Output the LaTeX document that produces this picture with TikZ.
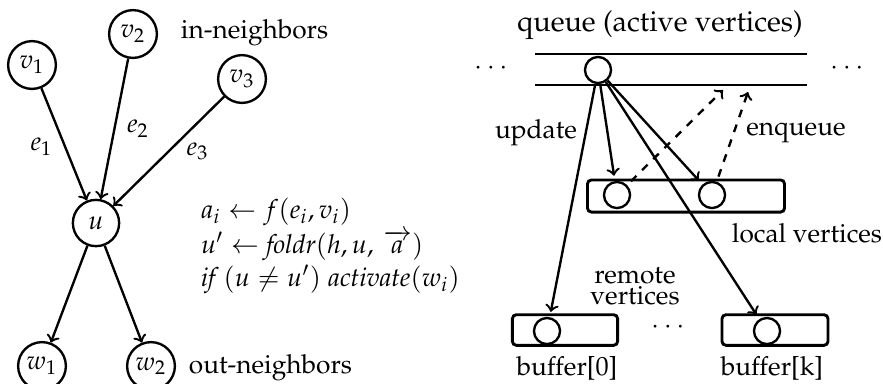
\documentclass[tikz,border=0pt]{standalone}
\usepackage{amsmath,amssymb}
\usepackage[T1]{fontenc}
\usepackage{mathpazo}
\usepackage{tikz}
\usetikzlibrary{positioning}

\begin{document}
\begin{tikzpicture}[
    x=0.0134cm, y=-0.0134cm,             % one unit = one pixel of the sketch
    >=to,
    line width=0.9pt,
    vertex/.style={draw, circle, minimum size=0.64cm, inner sep=0pt},
    item/.style={draw, circle, minimum size=0.35cm, inner sep=0pt},
    bin/.style={draw, rectangle, rounded corners=1.5pt, line width=1.1pt,
        minimum height=0.41cm, inner sep=0pt},
    update/.style={->, shorten >=2pt},
    enqueue/.style={->, dashed, shorten <=2pt}
]
\useasboundingbox (0,0) rectangle (883,383);

% the vertex program
\node[vertex] (v1) at (32,65) {$v_1$};
\node[vertex] (v2) at (133,34) {$v_2$};
\node[vertex] (v3) at (242,79) {$v_3$};
\node[vertex, minimum size=0.62cm] (u) at (96,223) {$u$};
\node[vertex] (w1) at (42,366) {$w_1$};
\node[vertex] (w2) at (151,366) {$w_2$};

\node[anchor=west] (inlabel) at (171,33) {in-neighbors};
\node[anchor=west] (outlabel) at (179,368) {out-neighbors};

\draw[->] (v1) -- node[pos=0.52, left=1pt] {$e_1$} (u);
\draw[->] (v2) -- node[pos=0.5, right=1pt] {$e_2$} (u);
\draw[->] (v3) -- node[pos=0.5, right=3pt] {$e_3$} (u);
\draw[->] (u) -- (w1);
\draw[->] (u) -- (w2);

\node[anchor=base west] (rule1) at (191,218) {$a_i \leftarrow f(e_i, v_i)$};
\node[anchor=base west] (rule2) at (191,253) {$u' \leftarrow \mathit{foldr}(h, u,\, \overrightarrow{a})$};
\node[anchor=base west] (rule3) at (191,286) {$\mathit{if}\, (u \neq u')\; \mathit{activate}(w_i)$};

% the queue and the buffers
\node[font=\fontsize{11}{13}\selectfont] (qlabel) at (660,25) {queue (active vertices)};
\draw[line width=1.1pt] (535,54) -- (807,54) (535,85) -- (807,85);
\node[item] (q) at (598,70) {};
\node (qdotsl) at (493,68) {$\cdots$};
\node (qdotsr) at (849,68) {$\cdots$};

\node[bin, minimum width=2.64cm, minimum height=0.43cm] (local) at (686,196) {};
\node[item] (l1) at (617,195) {};
\node[item] (l2) at (712,195) {};
\node (loclabel) at (807,233) {local vertices};

\node[bin, minimum width=1.41cm] (buf0) at (565,330) {};
\node[bin, minimum width=1.42cm] (bufk) at (775,330) {};
\node[item] (b0) at (547,331) {};
\node[item] (bk) at (767,331) {};
\node (bdots) at (670,327) {$\cdots$};
\node (b0label) at (567,368) {buffer[0]};
\node (bklabel) at (772,368) {buffer[k]};
\node[align=center] (remote) at (635,286) {remote\\[-4pt]vertices};

\node (updlabel) at (536,133) {update};
\node (enqlabel) at (796,133) {enqueue};

\coordinate (back1) at (723,90);
\coordinate (back2) at (748,92);

\draw[update] (q) -- (b0);
\draw[update] (q) -- (l1);
\draw[update] (q) -- (bk);
\draw[update] (q) -- (l2);
\draw[enqueue] (l1) -- (back1);
\draw[enqueue] (l2) -- (back2);

\end{tikzpicture}
\end{document}
